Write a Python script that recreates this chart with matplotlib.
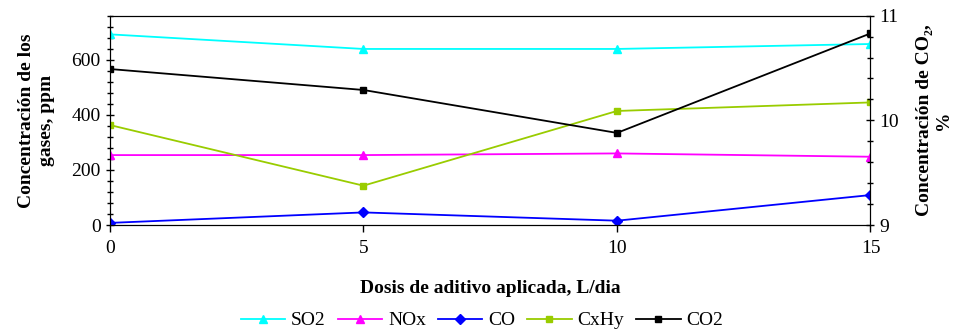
import matplotlib
matplotlib.use("Agg")
import matplotlib.pyplot as plt
from matplotlib.ticker import MultipleLocator

# datos
dosis = [0, 5, 10, 15]
so2 = [692, 639, 639, 657]
nox = [254, 254, 260, 248]
co = [8, 46, 16, 109]
cxhy = [363, 143, 414, 445]
co2 = [10.49, 10.29, 9.88, 10.83]

plt.rcParams['font.family'] = ['Liberation Serif', 'DejaVu Serif']
plt.rcParams['font.size'] = 14

fig = plt.figure(figsize=(9.64, 3.32), dpi=100)
ax = fig.add_axes([0.114, 0.322, 0.789, 0.631])
ax2 = ax.twinx()

l1, = ax.plot(dosis, so2, color='#00FFFF', marker='^', ms=6, lw=1.3, label='SO2')
l2, = ax.plot(dosis, nox, color='#FF00FF', marker='^', ms=6, lw=1.3, label='NOx')
l3, = ax.plot(dosis, co, color='#0000FF', marker='D', ms=5, lw=1.3, label='CO')
l4, = ax.plot(dosis, cxhy, color='#99CC00', marker='s', ms=5, lw=1.3, label='CxHy')
l5, = ax2.plot(dosis, co2, color='black', marker='s', ms=5, lw=1.3, label='CO2')

ax.set_xlim(0, 15)
ax.set_ylim(0, 760)
ax2.set_ylim(9, 11)
ax.set_xticks(dosis)
ax.yaxis.set_major_locator(MultipleLocator(200))
ax.yaxis.set_minor_locator(MultipleLocator(40))
ax2.yaxis.set_major_locator(MultipleLocator(1))
ax2.yaxis.set_minor_locator(MultipleLocator(0.2))

for a in (ax, ax2):
    a.tick_params(which='major', length=6, width=1, direction='inout', labelsize=14)
    a.tick_params(which='minor', length=4, width=1, direction='inout')
ax.tick_params(axis='x', direction='out', length=5, pad=6)

ax.set_ylabel('Concentración de los\ngases, ppm', fontweight='bold', fontsize=14, labelpad=12)
ax2.set_ylabel('Concentración de CO₂,\n%', fontweight='bold', fontsize=14, labelpad=12)
ax.set_xlabel('Dosis de aditivo aplicada, L/dia', fontweight='bold', fontsize=14, labelpad=16)

fig.legend(handles=[l1, l2, l3, l4, l5], loc='lower center', bbox_to_anchor=(0.5, -0.045),
           ncol=5, frameon=False, fontsize=14, handlelength=2.3, columnspacing=0.6,
           handletextpad=0.3)

fig.savefig('out.png', dpi=100)
